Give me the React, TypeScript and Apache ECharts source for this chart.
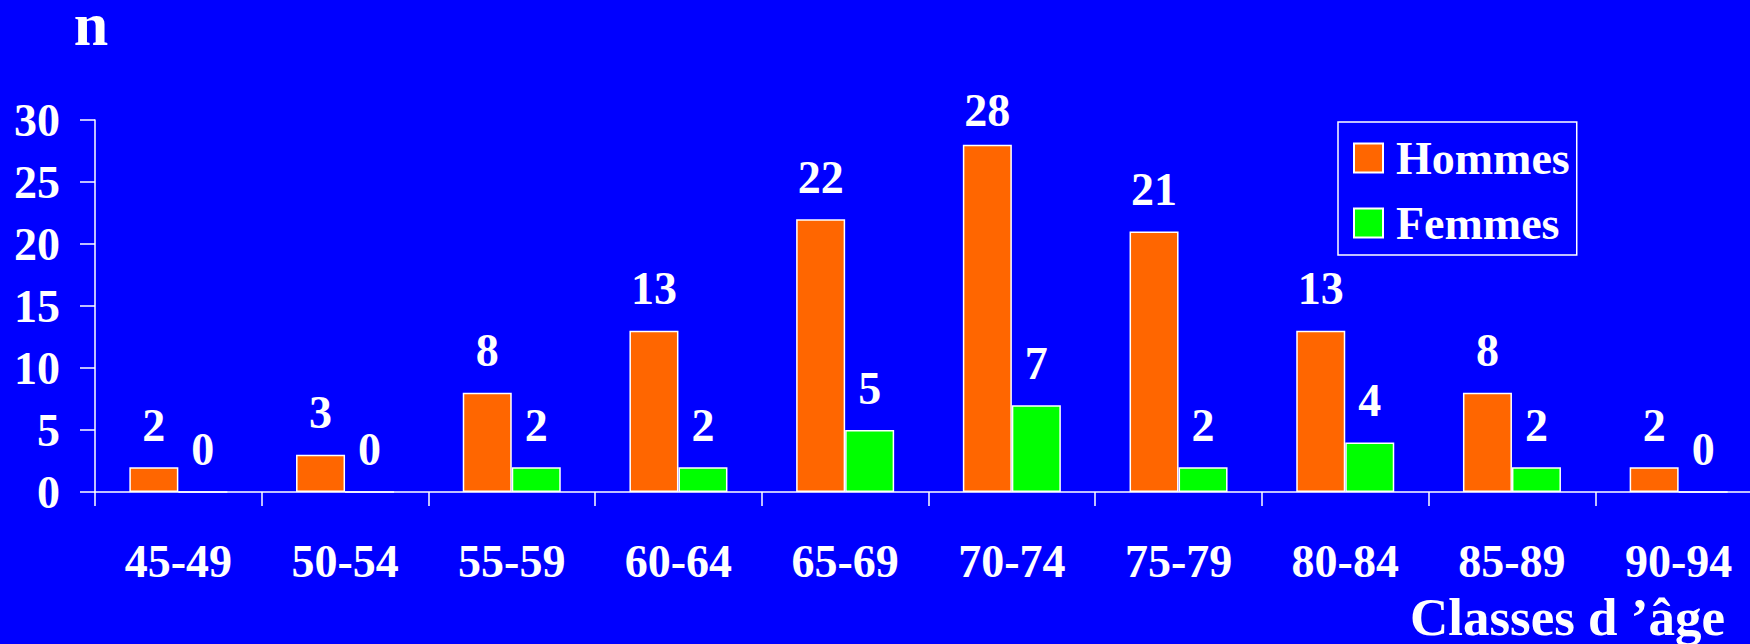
import React, { useEffect, useRef } from "react";
import * as echarts from "echarts";

const ageClasses = ["45-49", "50-54", "55-59", "60-64", "65-69", "70-74", "75-79", "80-84", "85-89", "90-94"];
const hommes = [2, 3, 8, 13, 22, 28, 21, 13, 8, 2];
const femmes = [0, 0, 2, 2, 5, 7, 2, 4, 2, 0];
const yTicks = { min: 0, max: 30, interval: 5 };

const FONT = "'Liberation Serif', 'Times New Roman', serif";
const BLUE = "#0000FF";
const ORANGE = "#FF6600";
const GREEN = "#00FF00";
const WHITE = "#FFFFFF";

const labelStyle = {
  show: true,
  position: "top" as const,
  distance: 19,
  color: WHITE,
  fontFamily: FONT,
  fontWeight: "bold" as const,
  fontSize: 46,
};

export default function App() {
  const ref = useRef<HTMLDivElement>(null);

  useEffect(() => {
    if (!ref.current) return;
    const chart = echarts.init(ref.current, null, { renderer: "svg" });
    const topValue = Math.max(...hommes);

    chart.setOption({
      animation: false,
      backgroundColor: BLUE,
      grid: {
        left: 95,
        top: 120,
        width: 1667,
        height: 372,
        outerBoundsMode: "none",
      },
      legend: {
        orient: "vertical",
        left: 1338,
        top: 122,
        padding: [13, 7, 9, 15],
        itemGap: 19,
        itemWidth: 29,
        itemHeight: 29,
        borderColor: WHITE,
        borderWidth: 1.5,
        icon: "rect",
        textStyle: {
          color: WHITE,
          fontFamily: FONT,
          fontWeight: "bold",
          fontSize: 46,
          padding: [0, 0, 0, 8],
        },
        data: ["Hommes", "Femmes"],
      },
      xAxis: {
        type: "category",
        data: ageClasses,
        boundaryGap: true,
        axisLine: { show: true, lineStyle: { color: WHITE, width: 1.5 } },
        axisTick: { show: true, length: 14, lineStyle: { color: WHITE, width: 1.5 } },
        axisLabel: {
          color: WHITE,
          fontFamily: FONT,
          fontWeight: "bold",
          fontSize: 46,
          margin: 46,
          interval: 0,
        },
        splitLine: { show: false },
      },
      yAxis: {
        type: "value",
        min: yTicks.min,
        max: yTicks.max,
        interval: yTicks.interval,
        axisLine: { show: true, lineStyle: { color: WHITE, width: 1.5 } },
        axisTick: { show: true, length: 15, lineStyle: { color: WHITE, width: 1.5 } },
        axisLabel: {
          color: WHITE,
          fontFamily: FONT,
          fontWeight: "bold",
          fontSize: 46,
          margin: 35,
        },
        splitLine: { show: false },
      },
      graphic: [
        {
          type: "text",
          x: 91,
          y: 24,
          style: {
            text: "n",
            fill: WHITE,
            font: `bold 62px ${FONT}`,
            textAlign: "center",
            textVerticalAlign: "middle",
          },
        },
        {
          type: "text",
          x: 1725,
          y: 617,
          style: {
            text: "Classes d \u2019âge",
            fill: WHITE,
            font: `bold 53px ${FONT}`,
            textAlign: "right",
            textVerticalAlign: "middle",
          },
        },
      ],
      series: [
        {
          name: "Hommes",
          type: "bar",
          barWidth: 49,
          barGap: "0%",
          itemStyle: { color: ORANGE, borderColor: WHITE, borderWidth: 1.5 },
          label: labelStyle,
          data: hommes.map((v) =>
            v === topValue ? { value: v, label: { distance: 11 } } : v
          ),
        },
        {
          name: "Femmes",
          type: "bar",
          barWidth: 49,
          barGap: "0%",
          itemStyle: { color: GREEN, borderColor: WHITE, borderWidth: 1.5 },
          label: labelStyle,
          data: femmes,
        },
      ],
    });

    return () => chart.dispose();
  }, []);

  return (
    <div
      ref={ref}
      style={{ position: "fixed", left: 0, top: 0, width: 1750, height: 644 }}
    />
  );
}
